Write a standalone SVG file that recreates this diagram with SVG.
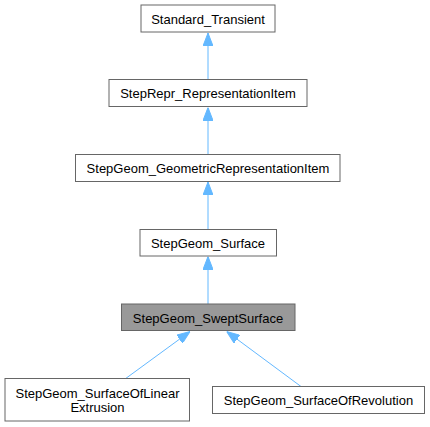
<svg xmlns="http://www.w3.org/2000/svg" width="430" height="427" viewBox="0 0 430 427">
<style>
.node rect{fill:#ffffff;stroke:#666666;stroke-width:1}
.node.cur rect{fill:#999999}
.node text{font-family:"Liberation Sans",Arial,sans-serif;font-size:13px;fill:#000000;text-anchor:middle}
.edge{stroke:#63b8ff;stroke-width:1;fill:none;marker-end:url(#ah)}
</style>
<defs>
<marker id="ah" viewBox="0 0 13 10" refX="13" refY="5" markerWidth="13" markerHeight="10" markerUnits="userSpaceOnUse" orient="auto">
<path d="M0,0 L13,5 L0,10 Z" fill="#63b8ff" stroke="#63b8ff" stroke-width="1"/>
</marker>
</defs>
<rect width="430" height="427" fill="#ffffff"/>
<g id="connectors">
<line class="edge" x1="208" y1="79.5" x2="208" y2="33"/>
<line class="edge" x1="208" y1="154.5" x2="208" y2="107.5"/>
<line class="edge" x1="208" y1="229.5" x2="208" y2="182"/>
<line class="edge" x1="208" y1="304.5" x2="208" y2="256.5"/>
<line class="edge" x1="125.7" y1="378.5" x2="190" y2="331.5"/>
<line class="edge" x1="301" y1="386.5" x2="226.7" y2="331.5"/>
</g>
<g id="n_Standard_Transient" class="node">
<rect x="141" y="5" width="134" height="27"/>
<text x="208" y="23.5">Standard_Transient</text>
</g>
<g id="n_StepRepr_RepresentationItem" class="node">
<rect x="109" y="79.5" width="198" height="27"/>
<text x="208" y="98">StepRepr_RepresentationItem</text>
</g>
<g id="n_StepGeom_GeometricRepresentationItem" class="node">
<rect x="75.5" y="154.5" width="264.5" height="27"/>
<text x="208" y="173">StepGeom_GeometricRepresentationItem</text>
</g>
<g id="n_StepGeom_Surface" class="node">
<rect x="140" y="229.5" width="136.5" height="26.5"/>
<text x="208" y="248">StepGeom_Surface</text>
</g>
<g id="n_StepGeom_SweptSurface" class="node cur">
<rect x="121.5" y="304" width="173.5" height="26.5"/>
<text x="208" y="322.5">StepGeom_SweptSurface</text>
</g>
<g id="n_StepGeom_SurfaceOfLinearExtrusion" class="node">
<rect x="5" y="378.5" width="184.5" height="42.5"/>
<text x="97.5" y="397.5">StepGeom_SurfaceOfLinear</text>
<text x="97.5" y="411.5">Extrusion</text>
</g>
<g id="n_StepGeom_SurfaceOfRevolution" class="node">
<rect x="212.5" y="386.5" width="212" height="27"/>
<text x="318.5" y="405">StepGeom_SurfaceOfRevolution</text>
</g>
</svg>
